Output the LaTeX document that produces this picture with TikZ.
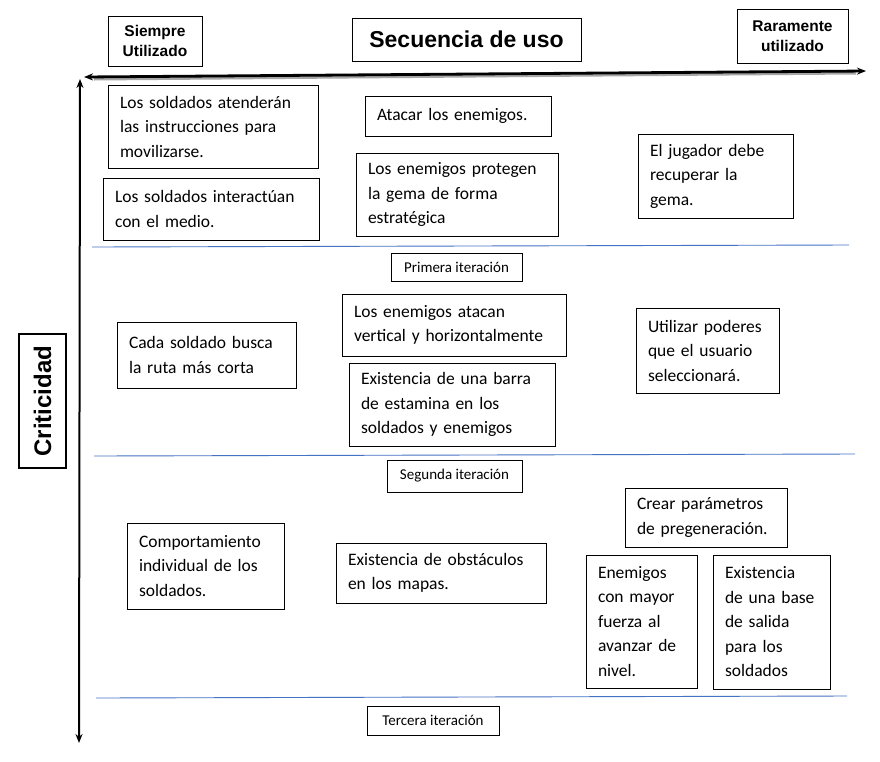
\documentclass[tikz,border=0pt]{standalone}
\usepackage{fontspec}
\setmainfont{Carlito}
\newfontfamily\hdr{Liberation Sans}
\usetikzlibrary{arrows.meta,calc}
\definecolor{sepblue}{HTML}{4472C4}
\begin{document}
\begin{tikzpicture}[x=1pt,y=-1pt,
  box/.style={draw=black, line width=0.9pt, inner xsep=12pt, inner ysep=4pt, align=left,
    font=\fontsize{17.5}{24.5}\selectfont, anchor=center},
  hbox/.style={draw=black, line width=0.9pt, align=center, inner sep=2pt, anchor=center},
  itbox/.style={draw=black, line width=0.8pt, align=center, inner sep=2pt,
    font=\fontsize{15}{17}\selectfont, anchor=center},
  sep/.style={draw=sepblue, line width=0.9pt},
  axis/.style={draw=black, {Stealth[length=9pt,width=7pt]}-{Stealth[length=9pt,width=7pt]}}
]
\useasboundingbox (0,0) rectangle (880,761);
\fill[white] (0,0) rectangle (880,761);

% header boxes
\node[hbox, minimum width=94pt, minimum height=50pt, font=\hdr\bfseries\fontsize{15.5}{20}\selectfont] (siempre) at (155,41) {Siempre\\Utilizado};
\node[hbox, minimum width=229pt, minimum height=43pt, font=\hdr\bfseries\fontsize{23}{26}\selectfont] (secuencia) at (466.5,39.5) {Secuencia de uso};
\node[hbox, minimum width=111pt, minimum height=54pt, font=\hdr\bfseries\fontsize{15.5}{20}\selectfont] (raramente) at (792.5,36) {Raramente\\utilizado};
\node[hbox, line width=1.6pt, minimum width=134pt, minimum height=47pt, rotate=90, font=\hdr\bfseries\fontsize{24}{26}\selectfont] (criticidad) at (42.5,401) {Criticidad};

% axes
\coordinate (hl) at (84,77);
\coordinate (hr) at (866,71);
\coordinate (vt) at (80,79);
\coordinate (vb) at (79,743);
\draw[draw=black!35, line width=4pt] ($(hl)+(10,1.5)$) -- ($(hr)+(-10,1.5)$);
\draw[axis, line width=2.8pt, draw=black] (hl) -- (hr);
\draw[axis, line width=2pt] (vb) -- (vt);

% separator lines
\coordinate (s1l) at (92,247); \coordinate (s1r) at (849,245);
\coordinate (s2l) at (94,456); \coordinate (s2r) at (855,454);
\coordinate (s3l) at (96,698); \coordinate (s3r) at (847,696);
\draw[sep] (s1l) -- (s1r);
\draw[sep] (s2l) -- (s2r);
\draw[sep] (s3l) -- (s3r);

% iteration labels
\node[itbox, minimum width=131pt, minimum height=28pt] (it1) at (456.5,267) {Primera iteración};
\node[itbox, minimum width=135pt, minimum height=32pt] (it2) at (454.5,476) {Segunda iteración};
\node[itbox, minimum width=132pt, minimum height=29pt] (it3) at (433,720.5) {Tercera iteración};

% first band
\node[box, text width=186pt, minimum height=83pt] (b1) at (213,126.5) {Los soldados atenderán\\las instrucciones para\\movilizarse.};
\node[box, text width=162pt, minimum height=40pt] (b2) at (458,116) {Atacar los enemigos.};
\node[box, text width=192pt, minimum height=62pt] (b3) at (211,209) {Los soldados interactúan\\con el medio.};
\node[box, text width=178pt, minimum height=83pt] (b4) at (457,194.5) {Los enemigos protegen\\la gema de forma\\estratégica};
\node[box, text width=131pt, minimum height=84pt] (b5) at (715.5,176) {El jugador debe\\recuperar la\\gema.};

% second band
\node[box, text width=155pt, minimum height=66pt] (b6) at (206.5,355) {Cada soldado busca\\la ruta más corta};
\node[box, text width=200pt, minimum height=62pt] (b7) at (454,325) {Los enemigos atacan\\vertical y horizontalmente};
\node[box, text width=182pt, minimum height=83pt] (b8) at (452,404.5) {Existencia de una barra\\de estamina en los\\soldados y enemigos};
\node[box, text width=119pt, minimum height=85pt] (b9) at (707.5,350.5) {Utilizar poderes\\que el usuario\\seleccionará.};

% third band
\node[box, text width=138pt, minimum height=59pt] (b10) at (706,517.5) {Crear parámetros\\de pregeneración.};
\node[box, text width=133pt, minimum height=86pt] (b11) at (205.5,566) {Comportamiento\\individual de los\\soldados.};
\node[box, text width=186pt, minimum height=60pt] (b12) at (441,573) {Existencia de obstáculos\\en los mapas.};
\node[box, text width=87pt, minimum height=133pt] (b13) at (641.5,621.5) {Enemigos\\con mayor\\fuerza al\\avanzar de\\nivel.};
\node[box, text width=93pt, minimum height=134pt] (b14) at (771.5,622) {Existencia\\de una base\\de salida\\para los\\soldados};
\end{tikzpicture}
\end{document}
